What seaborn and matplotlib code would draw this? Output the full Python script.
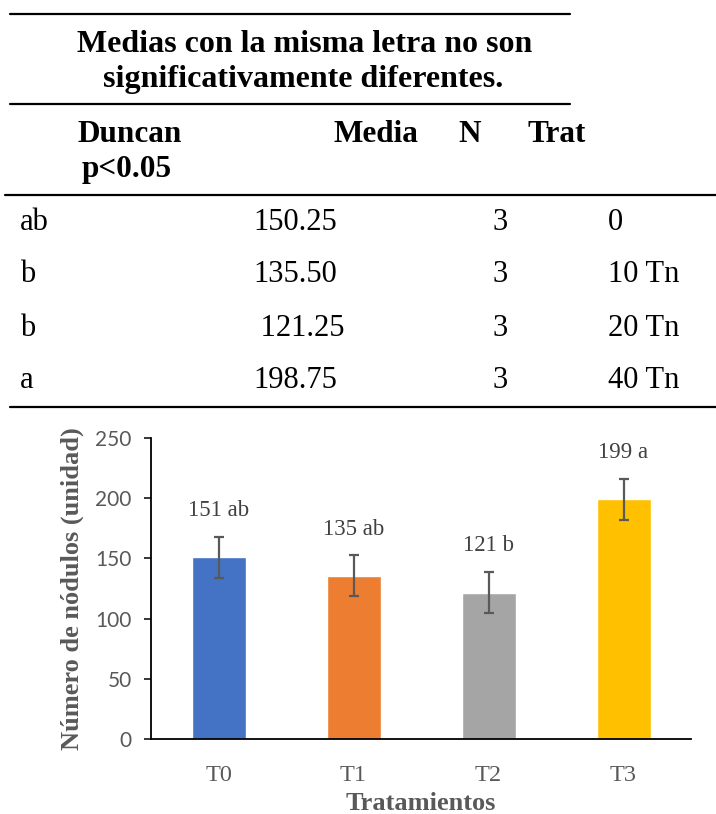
"""Duncan table and nodule count bar chart."""

import matplotlib.pyplot as plt
import numpy as np
import seaborn as sns
from matplotlib.lines import Line2D

W, H = 716, 814

# chart data
treatments = ["T0", "T1", "T2", "T3"]
nodules = [151.0, 135.5, 121.5, 199.0]
error = [17.0, 17.0, 17.0, 17.0]
bar_labels = ["151 ab", "135 ab", "121 b", "199 a"]
bar_colors = ["#4472C4", "#ED7D31", "#A5A5A5", "#FFC000"]

# table data
duncan = ["ab", "b", "b", "a"]
media = ["150.25", "135.50", " 121.25", "198.75"]
n_reps = ["3", "3", "3", "3"]
trat = ["0", "10 Tn", "20 Tn", "40 Tn"]

SERIF = "Liberation Serif"
SANS = "Lato"


def fx(x):
    return x / W


def fy(y):
    return 1 - y / H


def hline(fig, y, x0, x1):
    fig.add_artist(Line2D([fx(x0), fx(x1)], [fy(y), fy(y)], color="black", lw=1.6,
                          transform=fig.transFigure))


sns.set_theme(style="white")
fig = plt.figure(figsize=(W / 100, H / 100), dpi=100)

# ---- table ----
hline(fig, 14, 10, 570)
title = dict(family=SERIF, weight="bold", fontsize=23, ha="center", va="center", color="black")
fig.text(fx(305), fy(44), "Medias con la misma letra no son", **title)
fig.text(fx(303), fy(79), "significativamente diferentes.", **title)
hline(fig, 104, 10, 570)
head = dict(family=SERIF, weight="bold", fontsize=22.5, va="center", color="black")
fig.text(fx(78), fy(134), "Duncan", ha="left", **head)
fig.text(fx(82), fy(170), "p<0.05", ha="left", **head)
fig.text(fx(418), fy(134), "Media", ha="right", **head)
fig.text(fx(470), fy(134), "N", ha="center", **head)
fig.text(fx(527), fy(134), "Trat", ha="left", **head)
hline(fig, 195, 5, 716)
row_y = [222, 275, 328, 381]
cell = dict(family=SERIF, fontsize=22, va="center", color="black")
for y, d, m, n, t in zip(row_y, duncan, media, n_reps, trat):
    fig.text(fx(20), fy(y), d, ha="left", **cell)
    fig.text(fx(253), fy(y), m, ha="left", **cell)
    fig.text(fx(500), fy(y), n, ha="center", **cell)
    fig.text(fx(608), fy(y), t, ha="left", **cell)
hline(fig, 407, 10, 716)

# ---- bar chart ----
ax = fig.add_axes([fx(151), fy(739), 540 / W, 301 / H])
sns.barplot(x=treatments, y=nodules, hue=treatments, palette=bar_colors, width=0.4,
            saturation=1, legend=False, ax=ax)
pos = np.arange(len(treatments))
ax.errorbar(pos, nodules, yerr=error, fmt="none", ecolor="#595959", elinewidth=1.6,
            capsize=3.6, capthick=1.6)
for p, m, e, lab in zip(pos, nodules, error, bar_labels):
    ax.annotate(lab, (p, m + e), xytext=(0, 19), textcoords="offset points",
                ha="center", va="center", family=SERIF, fontsize=16.5, color="#404040")

ax.set_xlim(-0.5, 3.5)
ax.set_ylim(0, 250)
ax.set_yticks([0, 50, 100, 150, 200, 250])
for side in ["top", "right"]:
    ax.spines[side].set_visible(False)
for side in ["left", "bottom"]:
    ax.spines[side].set_color("black")
    ax.spines[side].set_linewidth(1.3)
ax.tick_params(axis="y", left=True, length=5, width=1.1, color="black", pad=9,
               labelsize=15, labelcolor="#595959")
ax.tick_params(axis="x", bottom=False, pad=13, labelsize=17.5, labelcolor="#595959")
for lab in ax.get_yticklabels():
    lab.set_family(SANS)
for lab in ax.get_xticklabels():
    lab.set_family(SERIF)
ax.set_xlabel("Tratamientos", family=SERIF, weight="bold", fontsize=19, color="#595959")
ax.set_ylabel("Número de nódulos (unidad)", family=SERIF, weight="bold", fontsize=19,
              color="#595959")
ax.xaxis.set_label_coords((421 - 151) / 540, -(803 - 739) / 301)
ax.yaxis.set_label_coords(-(151 - 72) / 540, 0.5)
ax.xaxis.label.set_va("center")
ax.yaxis.label.set_va("center")

fig.savefig("out.png", dpi=100)
